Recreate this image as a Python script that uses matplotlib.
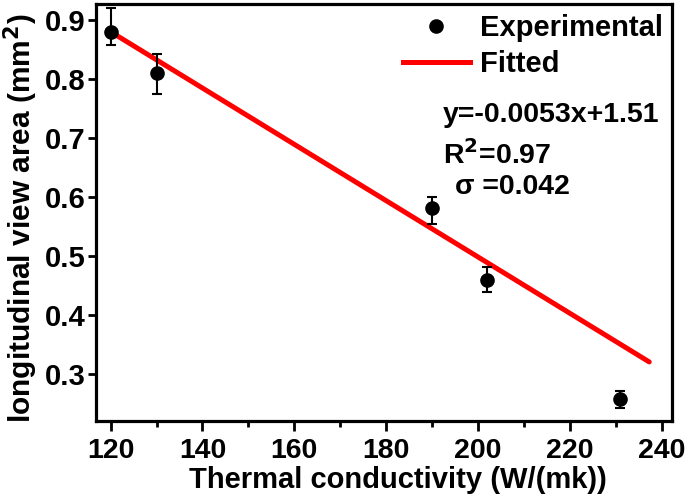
import matplotlib
matplotlib.use("Agg")
import matplotlib.pyplot as plt
from matplotlib.ticker import MultipleLocator
from matplotlib.lines import Line2D

plt.rcParams['font.family'] = ['Liberation Sans', 'DejaVu Sans']
plt.rcParams['font.weight'] = 'bold'
plt.rcParams['mathtext.default'] = 'bf'

# Data
conductivity = [120, 130, 190, 202, 231]
area = [0.880, 0.810, 0.581, 0.459, 0.258]
err_low = [0.023, 0.036, 0.027, 0.019, 0.015]
err_high = [0.040, 0.032, 0.020, 0.022, 0.013]

fit_x = [120, 237.3]
fit_y = [0.880, 0.321]

xticks = [120, 140, 160, 180, 200, 220, 240]
yticks = [0.3, 0.4, 0.5, 0.6, 0.7, 0.8, 0.9]

FS = 21

fig = plt.figure(figsize=(6.85, 4.94), dpi=100)
ax = fig.add_axes([0.1401, 0.1478, 0.9806 - 0.1401, 0.9919 - 0.1478])

ax.plot(fit_x, fit_y, color='#ff0000', lw=3.6, solid_capstyle='round',
        zorder=2)
ax.errorbar(conductivity, area, yerr=[err_low, err_high], fmt='o',
            color='black', ms=9.5, elinewidth=1.5, capsize=3.6, capthick=1.5,
            zorder=3)

ax.set_xlim(116.8, 242.2)
ax.set_ylim(0.221, 0.927)
ax.set_xticks(xticks)
ax.set_xticklabels([str(v) for v in xticks])
ax.xaxis.set_minor_locator(MultipleLocator(10))
ax.set_yticks(yticks)
ax.set_yticklabels([f'{v:.1f}' for v in yticks])

for s in ax.spines.values():
    s.set_linewidth(2.3)
ax.tick_params(axis='x', which='major', direction='out', length=7,
               width=2, labelsize=20.5, pad=5)
ax.tick_params(axis='y', which='major', direction='out', length=6,
               width=2, labelsize=FS, pad=1.5)
ax.tick_params(axis='x', which='minor', direction='out', length=4, width=2)

for lab in ax.get_xticklabels() + ax.get_yticklabels():
    lab.set_fontweight('bold')

ax.set_xlabel('Thermal conductivity (W/(mk))', fontsize=21,
              fontweight='bold')
ax.xaxis.set_label_coords(0.525, -0.108)
ax.set_ylabel('longitudinal view area (mm$^2$)', fontsize=21.5,
              fontweight='bold')
ax.yaxis.set_label_coords(-0.098, 0.487)

h_exp = Line2D([], [], color='black', marker='o', ms=9.5, ls='none')
h_fit = Line2D([], [], color='#ff0000', lw=3.6)
ax.legend([h_exp, h_fit], ['Experimental', 'Fitted'], loc='upper left',
          bbox_to_anchor=(0.533, 0.975), frameon=False, fontsize=FS,
          handlelength=2.3, handletextpad=0.35, labelspacing=0.25,
          borderaxespad=0, borderpad=0)

ax.text(0.603, 0.734, 'y=-0.0053x+1.51', transform=ax.transAxes,
        fontsize=20.5, fontweight='bold', va='center', ha='left')
ax.text(0.603, 0.638, 'R$^2$=0.97', transform=ax.transAxes,
        fontsize=20.5, fontweight='bold', va='center', ha='left')
ax.text(0.624, 0.561, '\u03c3 =0.042', transform=ax.transAxes,
        fontsize=20.5, fontweight='bold', va='center', ha='left')

fig.savefig('out.png', dpi=100)
